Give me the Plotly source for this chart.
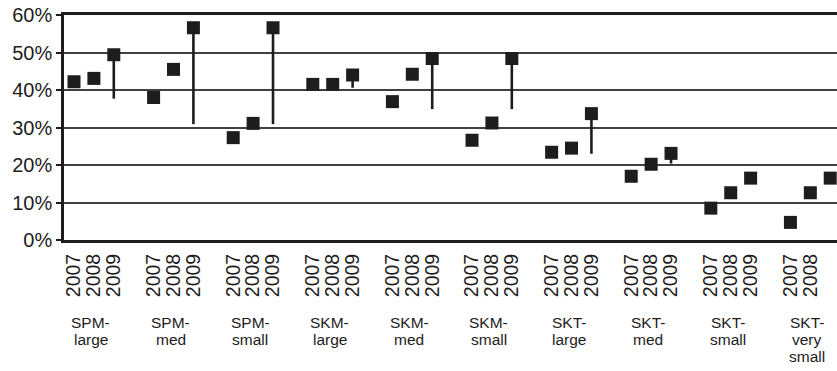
import plotly.graph_objects as go

groups = ["SPM-\nlarge", "SPM-\nmed", "SPM-\nsmall", "SKM-\nlarge", "SKM-\nmed",
          "SKM-\nsmall", "SKT-\nlarge", "SKT-\nmed", "SKT-\nsmall", "SKT-\nvery\nsmall"]
years = ["2007", "2008", "2009"]
y2007 = [42.2, 38.0, 27.3, 41.5, 36.9, 26.6, 23.4, 17.0, 8.5, 4.7]
y2008 = [43.1, 45.5, 31.1, 41.5, 44.2, 31.2, 24.5, 20.2, 12.6, 12.6]
y2009 = [49.4, 56.6, 56.6, 44.0, 48.4, 48.4, 33.7, 23.1, 16.5, 16.5]
low2009 = [37.7, 30.9, 30.9, 40.6, 34.9, 34.9, 23.0, 20.4, None, None]
y_ticks = [0, 10, 20, 30, 40, 50, 60]

SLOTS = 4  # 3 years + 1 blank gap per group
INK = "#1e1c1d"
FONT = "Liberation Sans, Arial, sans-serif"

def xpos(year_idx):
    return [g * SLOTS + year_idx for g in range(len(groups))]

fig = go.Figure()
series = [y2007, y2008, y2009]
for i, (yr, vals) in enumerate(zip(years, series)):
    kw = {}
    if yr == "2009":
        minus = [(v - lo) if lo is not None else 0 for v, lo in zip(vals, low2009)]
        kw["error_y"] = dict(type="data", symmetric=False, array=[0] * len(vals),
                             arrayminus=minus, width=0, thickness=2.6, color=INK)
    fig.add_trace(go.Scatter(
        x=xpos(i), y=vals, mode="markers", name=yr,
        marker=dict(symbol="square", size=13, color=INK, line=dict(width=0)),
        cliponaxis=False, hoverinfo="skip", **kw))

tickvals = []
ticktext = []
for g in range(len(groups)):
    for i, yr in enumerate(years):
        tickvals.append(g * SLOTS + i)
        ticktext.append(yr)

fig.update_layout(
    width=837, height=371,
    margin=dict(l=64, r=0, t=15, b=131),
    paper_bgcolor="white", plot_bgcolor="white",
    showlegend=False,
    font=dict(family=FONT, color=INK),
    xaxis=dict(
        range=[-0.5025, 38.34], tickmode="array", tickvals=tickvals, ticktext=ticktext,
        tickangle=-90, tickfont=dict(size=19.5, family=FONT, color=INK),
        showgrid=False, zeroline=False, showline=True, linecolor=INK, linewidth=3,
        mirror=True, ticks="", ticklabelstandoff=3,
    ),
    yaxis=dict(
        range=[0, 60], tickmode="array", tickvals=y_ticks,
        ticktext=[f"{v}%" for v in y_ticks],
        tickfont=dict(size=20, family=FONT, color=INK),
        showgrid=True, gridcolor="#404040", gridwidth=1.6,
        zeroline=False, showline=True, linecolor=INK, linewidth=2.5,
        ticks="outside", ticklen=5, tickwidth=1.5, tickcolor=INK,
    ),
)

for g, label in enumerate(groups):
    for j, line in enumerate(label.split("\n")):
        fig.add_annotation(
            x=g * SLOTS + 1, xref="x", y=0, yref="paper",
            text=line, showarrow=False, xanchor="center", yanchor="middle",
            yshift=-(82 + j * 17.3), xshift=-3,
            font=dict(size=15.5, family=FONT, color=INK),
        )

fig.write_html("out.html",
               config={"displayModeBar": False},
               post_script="document.body.style.margin='0';document.body.style.overflow='hidden';")
